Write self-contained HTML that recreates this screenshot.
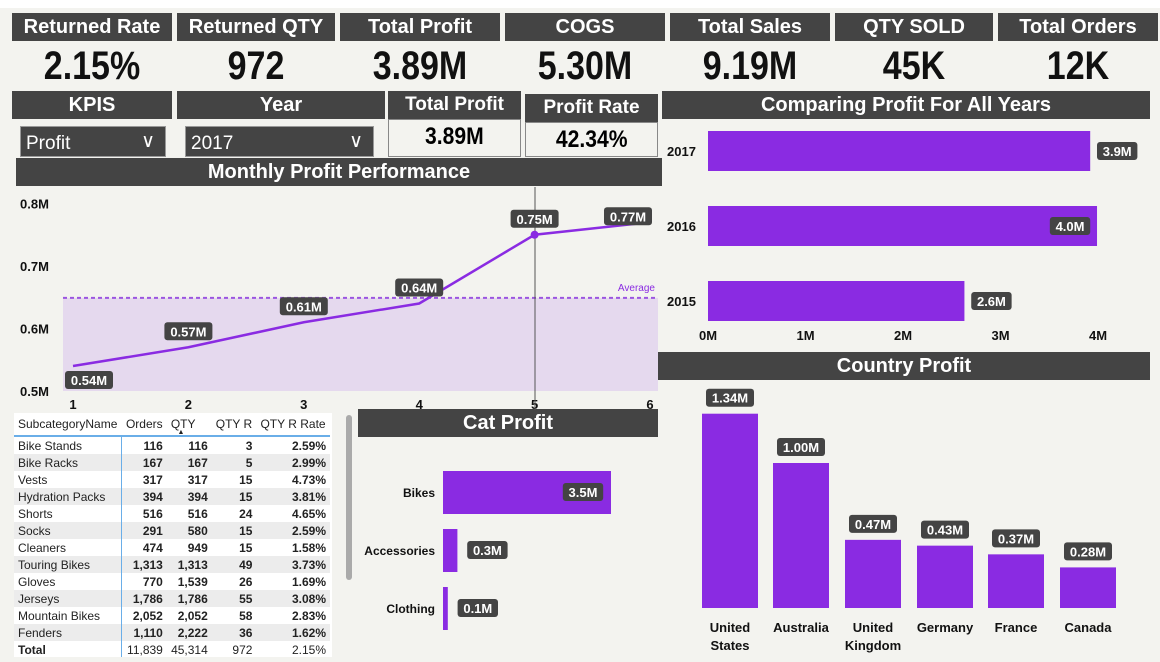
<!DOCTYPE html>
<html><head><meta charset="utf-8"><style>
body{margin:0;width:1160px;height:662px;background:#f3f3ef;font-family:"Liberation Sans",sans-serif;position:relative;overflow:hidden}
.a{position:absolute;box-sizing:border-box}
.h{background:#444;color:#fff;font-weight:bold;text-align:center;font-size:20px;line-height:28px}
.v{font-weight:bold;text-align:center;font-size:40px;color:#111;transform:scaleX(.85)}
.dd{background:#444;color:#fff;font-size:19px;padding:6px 5px 0;border:1px solid #999}
table{border-collapse:collapse;font-size:12px;color:#222}
td{height:17px;padding:0 4px;white-space:nowrap}
</style></head><body>
<div class="a" style="left:0;top:0;width:1160px;height:8px;background:#fff"></div>
<div id="kpis"></div>
<div class="a h" style="left:12px;top:91px;width:160px">KPIS</div>
<div class="a h" style="left:177px;top:91px;width:208px">Year</div>
<div class="a dd" style="left:20px;top:126px;width:146px;height:31px">Profit<span style="position:absolute;right:10px;top:3px">&#8744;</span></div>
<div class="a dd" style="left:185px;top:126px;width:189px;height:31px">2017<span style="position:absolute;right:10px;top:3px">&#8744;</span></div>
<div class="a h" style="left:388px;top:91px;width:133px;font-size:19px">Total Profit</div>
<div class="a" style="left:388px;top:119px;width:133px;height:38px;border:1px solid #888;background:#f3f3ef;text-align:center;font-weight:bold;font-size:24px;line-height:34px"><span style="display:inline-block;transform:scaleX(.88)">3.89M</span></div>
<div class="a h" style="left:525px;top:94px;width:133px;font-size:19px">Profit Rate</div>
<div class="a" style="left:525px;top:122px;width:133px;height:35px;border:1px solid #888;text-align:center;font-weight:bold;font-size:24px;line-height:34px"><span style="display:inline-block;transform:scaleX(.88)">42.34%</span></div>
<div class="a h" style="left:662px;top:91px;width:488px">Comparing Profit For All Years</div>
<div class="a h" style="left:16px;top:158px;width:646px">Monthly Profit Performance</div>
<div class="a h" style="left:658px;top:352px;width:492px">Country Profit</div>
<div class="a h" style="left:358px;top:409px;width:300px">Cat Profit</div>

<svg class="a" style="left:0;top:0" width="1160" height="662" id="svg"></svg>

<div class="a" style="left:14px;top:413px;width:318px;height:244px;background:#fff;overflow:hidden">
<table id="tbl" style="width:316px"></table></div>
<div class="a" style="left:346px;top:415px;width:6px;height:165px;background:#aaa;border-radius:3px"></div>

<script>
const kpiTitles=["Returned Rate","Returned QTY","Total Profit","COGS","Total Sales","QTY SOLD","Total Orders"];
const kpiValues=["2.15%","972","3.89M","5.30M","9.19M","45K","12K"];
const kx=[12,177,340,505,670,835,998],kw=[160,158,160,160,160,158,160];
let kh="";
kpiTitles.forEach((t,i)=>{kh+=`<div class="a h" style="left:${kx[i]}px;top:13px;width:${kw[i]}px">${t}</div><div class="a v" style="left:${kx[i]}px;top:44px;width:${kw[i]}px">${kpiValues[i]}</div>`});
document.getElementById('kpis').innerHTML=kh;

const months=[1,2,3,4,5,6];
const monthProfit=[0.54,0.57,0.61,0.64,0.75,0.77];
const avgProfit=0.649;
const yTicks=[0.5,0.6,0.7,0.8];
const years=["2017","2016","2015"];
const yearProfit=[3.92,3.99,2.63];
const xTicks=[0,1,2,3,4];
const countries=["United States","Australia","United Kingdom","Germany","France","Canada"];
const countryProfit=[1.34,1.00,0.47,0.43,0.37,0.28];
const cats=["Bikes","Accessories","Clothing"];
const catProfit=[3.5,0.3,0.1];
const rows=[["Bike Stands",116,116,3,"2.59%"],["Bike Racks",167,167,5,"2.99%"],["Vests",317,317,15,"4.73%"],["Hydration Packs",394,394,15,"3.81%"],["Shorts",516,516,24,"4.65%"],["Socks",291,580,15,"2.59%"],["Cleaners",474,949,15,"1.58%"],["Touring Bikes",1313,1313,49,"3.73%"],["Gloves",770,1539,26,"1.69%"],["Jerseys",1786,1786,55,"3.08%"],["Mountain Bikes",2052,2052,58,"2.83%"],["Fenders",1110,2222,36,"1.62%"]];
const total=["Total",11839,45314,972,"2.15%"];

const P="#8a2be2",NS="http://www.w3.org/2000/svg",svg=document.getElementById('svg');
function el(t,a,txt){const e=document.createElementNS(NS,t);for(const k in a)e.setAttribute(k,a[k]);if(txt!=null)e.textContent=txt;svg.appendChild(e);return e}
function lbl(cx,cy,t,name){const w=t.length*7.6+10;const r=el('rect',{x:cx-w/2,y:cy-9,width:w,height:18,rx:3,fill:'#444'});


const e=el('text',{x:cx,y:cy+5,fill:'#fff','font-size':13,'font-weight':'bold','text-anchor':'middle'},t);

}
const lx=m=>73+(m-1)*115.4, ly=v=>391-(v-0.5)*625;
yTicks.forEach(t=>{const e=el('text',{x:20,y:ly(t)+5,'font-size':13,'font-weight':'bold',fill:'#111'},t.toFixed(1)+'M');

});
months.forEach(m=>{const e=el('text',{x:lx(m),y:409,'font-size':13,'font-weight':'bold','text-anchor':'middle',fill:'#111'},m);

});
let area=el('rect',{x:63,y:ly(avgProfit),width:595,height:391-ly(avgProfit),fill:'#e5d9ee'});


let av=el('line',{x1:63,x2:658,y1:ly(avgProfit),y2:ly(avgProfit),stroke:'#9b55e0','stroke-width':2,'stroke-dasharray':'4,3'});


let at=el('text',{x:655,y:ly(avgProfit)-7,'font-size':10,fill:P,'text-anchor':'end'},'Average');


let vl=el('line',{x1:535,x2:535,y1:187,y2:410,stroke:'#555','stroke-width':1});


let pl=el('polyline',{points:months.map((m,i)=>lx(m)+','+ly(monthProfit[i])).join(' '),fill:'none',stroke:P,'stroke-width':2.5});


months.forEach((m,i)=>{if(m==5){const c=el('circle',{cx:lx(m),cy:ly(monthProfit[i]),r:4,fill:P});

}
let cx=lx(m),cy=ly(monthProfit[i])+14;if(i>=1&&i<=4)cy=ly(monthProfit[i])-16;if(i==0)cx+=16;if(i==5){cx-=22;cy=ly(monthProfit[i])-6}
lbl(cx,cy,monthProfit[i].toFixed(2)+'M','month-label');});
const bx=v=>708+v*97.5, yrY=[131,206,281];
xTicks.forEach(t=>{const e=el('text',{x:bx(t),y:340,'font-size':13,'font-weight':'bold','text-anchor':'middle',fill:'#111'},t+'M');

});
years.forEach((y,i)=>{const r=el('rect',{x:708,y:yrY[i],width:bx(yearProfit[i])-708,height:40,fill:P});


const t=el('text',{x:667,y:yrY[i]+25,'font-size':13,'font-weight':'bold',fill:'#111'},y);


const ins=yearProfit[i]>=3.95;lbl(ins?bx(yearProfit[i])-27:bx(yearProfit[i])+27,yrY[i]+20,yearProfit[i].toFixed(1)+'M','year-value');});
const cy0=608,cs=145,cX=[702,773,845,917,988,1060];
countries.forEach((c,i)=>{const top=cy0-countryProfit[i]*cs;const r=el('rect',{x:cX[i],y:top,width:56,height:countryProfit[i]*cs,fill:P});


lbl(cX[i]+28,top-16,countryProfit[i].toFixed(2)+'M','country-value');
const w=c.split(' ');w.forEach((s,j)=>{const t=el('text',{x:cX[i]+28,y:632+j*18,'font-size':13,'font-weight':'bold','text-anchor':'middle',fill:'#111'},s);

});});
const catY=[471,529,587];
cats.forEach((c,i)=>{const w=catProfit[i]*48;const r=el('rect',{x:443,y:catY[i],width:Math.max(w,4),height:43,fill:P});


const t=el('text',{x:435,y:catY[i]+26,'font-size':12,'font-weight':'bold','text-anchor':'end',fill:'#111'},c);


lbl(i==0?443+w-28:443+w+30,catY[i]+21,catProfit[i].toFixed(1)+'M','cat-value');});
const f=n=>typeof n=='number'?n.toLocaleString('en-US'):n;
let h='<tr style="height:22px"><td>SubcategoryName</td><td>Orders</td><td>QTY<span style="font-size:7px;position:relative;top:6px;left:-18px">&#9650;</span></td><td>QTY R</td><td>QTY R Rate</td></tr><tr><td colspan=5 style="height:2px;padding:0;background:#6aaee8"></td></tr>';
rows.forEach((r,i)=>{h+=`<tr style="background:${i%2?'#ececec':'#fff'}"><td style="border-right:1px solid #6aaee8">${r[0]}</td>`+r.slice(1).map(v=>`<td style="text-align:right;font-weight:bold">${f(v)}</td>`).join('')+'</tr>'});
h+=`<tr><td style="font-weight:bold;border-right:1px solid #6aaee8">Total</td>`+total.slice(1).map(v=>`<td style="text-align:right">${f(v)}</td>`).join('')+'</tr>';
document.getElementById('tbl').innerHTML=h;
</script>
</body></html>
